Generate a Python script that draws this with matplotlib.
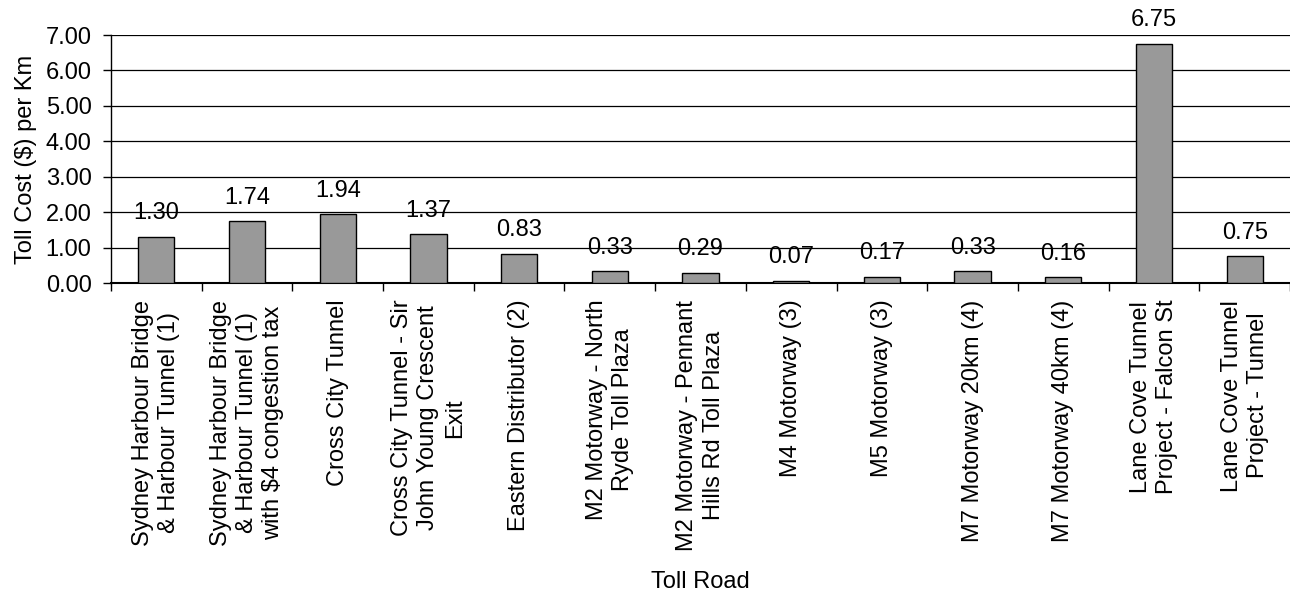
import matplotlib.pyplot as plt
import numpy as np

plt.rcParams['font.family'] = ['Liberation Sans', 'DejaVu Sans']

# --- data ---
roads = [
    "Sydney Harbour Bridge\n& Harbour Tunnel (1)",
    "Sydney Harbour Bridge\n& Harbour Tunnel (1)\nwith $4 congestion tax",
    "Cross City Tunnel",
    "Cross City Tunnel - Sir\nJohn Young Crescent\nExit",
    "Eastern Distributor (2)",
    "M2 Motorway - North\nRyde Toll Plaza",
    "M2 Motorway - Pennant\nHills Rd Toll Plaza",
    "M4 Motorway (3)",
    "M5 Motorway (3)",
    "M7 Motorway 20km (4)",
    "M7 Motorway 40km (4)",
    "Lane Cove Tunnel\nProject - Falcon St",
    "Lane Cove Tunnel\nProject - Tunnel",
]
cost_per_km = [1.30, 1.74, 1.94, 1.37, 0.83, 0.33, 0.29, 0.07, 0.17, 0.33, 0.16, 6.75, 0.75]

FS = 17

fig = plt.figure(figsize=(12.9, 5.94), dpi=100)
ax = fig.add_axes([111 / 1290, 1 - 283 / 594, (1290 - 111) / 1290, (283 - 35) / 594])

x = np.arange(len(roads))
ax.bar(x, cost_per_km, width=0.4, color='#999999', edgecolor='black', linewidth=1, zorder=3)

for xi, v in zip(x, cost_per_km):
    ax.annotate(f"{v:.2f}", (xi, v), xytext=(0, 9), textcoords='offset points',
                ha='center', va='bottom', fontsize=FS)

ax.set_xlim(-0.5, len(roads) - 0.5)
ax.set_ylim(0, 7)
ax.set_yticks(np.arange(0, 8, 1))
ax.set_yticklabels([f"{t:.2f}" for t in np.arange(0, 8, 1)], fontsize=FS)

# category boundaries get the ticks, labels sit in the middle
ax.set_xticks(np.arange(-0.5, len(roads), 1))
ax.set_xticklabels([])
ax.set_xticks(x, minor=True)
ax.set_xticklabels(roads, minor=True, rotation=90, ha='center', va='top',
                   multialignment='center', fontsize=FS, linespacing=1.25)
ax.tick_params(axis='x', which='major', direction='out', length=6, width=1)
ax.tick_params(axis='x', which='minor', length=0, pad=12)
ax.tick_params(axis='y', direction='out', length=6, width=1, pad=8)

ax.yaxis.grid(True, color='black', linewidth=0.9, zorder=0)
ax.set_axisbelow(True)
for side in ['top', 'right']:
    ax.spines[side].set_visible(False)
ax.spines['left'].set_linewidth(1)
ax.spines['bottom'].set_linewidth(1.5)

ax.set_ylabel("Toll Cost ($) per Km", fontsize=FS, labelpad=6)
ax.set_xlabel("Toll Road", fontsize=FS, labelpad=15)

fig.savefig("out.png", dpi=100)
